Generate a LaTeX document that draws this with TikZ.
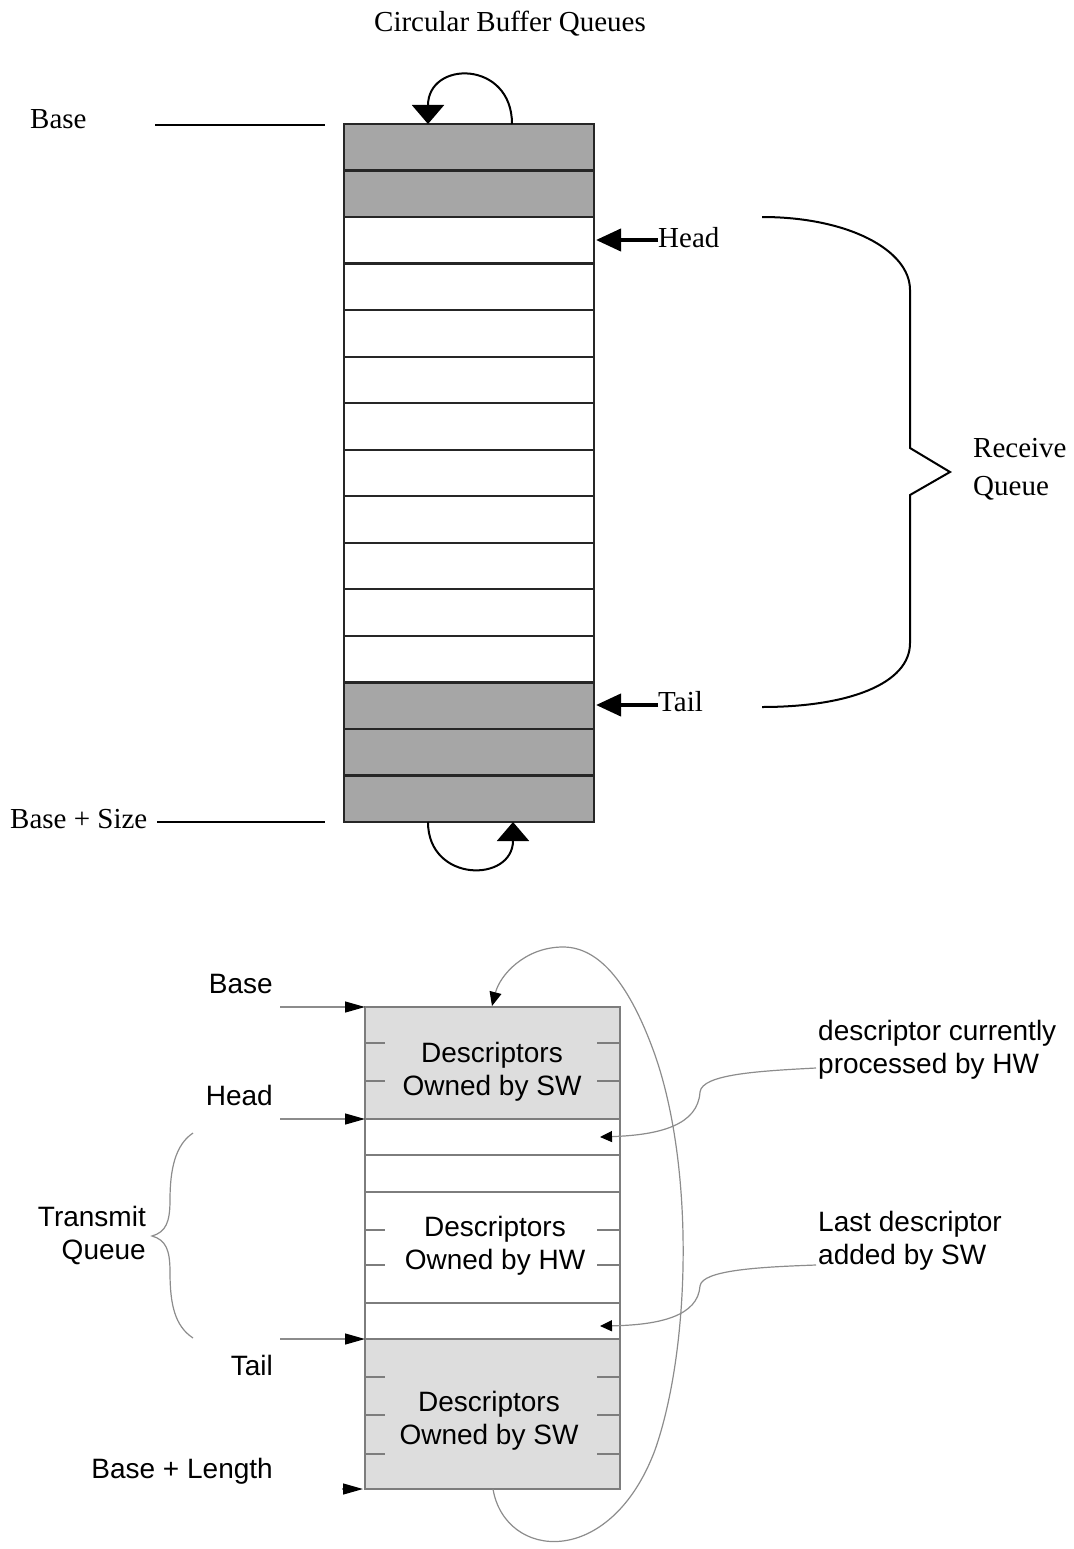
\documentclass[tikz,border=0pt]{standalone}
\usepackage{fontspec}
\setmainfont{Liberation Serif}
\newfontfamily\arialf{Liberation Sans}
\usetikzlibrary{arrows.meta}
\definecolor{topgray}{RGB}{166,166,166}
\definecolor{lightfill}{RGB}{221,221,221}
\definecolor{boxgray}{RGB}{125,125,125}
\definecolor{conngray}{RGB}{140,140,140}
\begin{document}
\begin{tikzpicture}[x=1pt,y=-1pt,
  serlab/.style={font=\fontsize{29}{38}\selectfont, inner sep=0pt},
  sanlab/.style={font=\arialf\fontsize{28}{33}\selectfont, inner sep=0pt},
  rowline/.style={line width=2.2pt, black!85},
  bigarrow/.style={line width=4pt, -{Triangle[length=25pt,width=22pt]}},
  looparrow/.style={line width=2pt, -{Triangle[length=19pt,width=32pt]}},
  conn/.style={conngray, line width=1.2pt},
  smalltip/.style={-{Triangle[length=12pt,width=11pt,black]}},
  ptrtip/.style={-{Triangle[length=20pt,width=11pt,black]}},
  tick/.style={boxgray, line width=1.2pt}]
\useasboundingbox (0,0) rectangle (1073,1549);

% ================= Top diagram =================
\node[serlab, anchor=base] (title) at (510,32) {Circular Buffer Queues};

\fill[topgray] (344,124) rectangle (594,217.1);
\fill[topgray] (344,682.4) rectangle (594,822);
\foreach \k in {1,...,14} \draw[rowline] (344,{124+46.533*\k}) -- (594,{124+46.533*\k});
\draw[line width=1.8pt, black!85] (344,124) rectangle (594,822);

\coordinate (rtop) at (512,124);
\coordinate (ltop) at (428,124);
\coordinate (rbot) at (513,822);
\coordinate (lbot) at (428,822);
\draw[looparrow] (rtop) .. controls (512,60) and (428,60) .. (ltop);
\draw[looparrow] (lbot) .. controls (428,883) and (513,883) .. (rbot);

\node[serlab, anchor=base west] (baseT) at (30,129) {Base};
\coordinate (baseL1) at (155,125);
\coordinate (baseL2) at (325,125);
\draw[line width=1.6pt] (baseL1) -- (baseL2);

\node[serlab, anchor=base west] (sizeT) at (10,828) {Base + Size};
\coordinate (sizeL1) at (157,822);
\coordinate (sizeL2) at (325,822);
\draw[line width=1.6pt] (sizeL1) -- (sizeL2);

\node[serlab, anchor=base west] (headT) at (658,247) {Head};
\coordinate (headP) at (596,240);
\draw[bigarrow] (headT.west |- headP) -- (headP);

\node[serlab, anchor=base west] (tailT) at (658,711) {Tail};
\coordinate (tailP) at (596,705);
\draw[bigarrow] (tailT.west |- tailP) -- (tailP);

\draw[line width=2pt] (762,217) .. controls (848,217) and (910,250) .. (910,290)
  -- (910,448) -- (950,472) -- (910,495) -- (910,643)
  .. controls (910,684) and (848,707) .. (762,707);
\node[serlab, anchor=west, align=left] (recv) at (973,469) {Receive\\Queue};

% ================= Bottom diagram =================
\fill[lightfill] (365,1007) rectangle (620,1119);
\fill[lightfill] (365,1339) rectangle (620,1489);
\foreach \y in {1119,1155,1192,1303,1339} \draw[tick] (365,\y) -- (620,\y);
\foreach \y in {1043,1081,1230,1265,1377,1415,1454} {
  \draw[tick] (365,\y) -- (385,\y);
  \draw[tick] (597,\y) -- (620,\y);
}
\draw[boxgray, line width=1.4pt] (365,1007) rectangle (620,1489);

\node[sanlab, align=center] (sw1) at (492,1072) {Descriptors\\Owned by SW};
\node[sanlab, align=center] (hw1) at (495,1246) {Descriptors\\Owned by HW};
\node[sanlab, align=center] (sw2) at (489,1421) {Descriptors\\Owned by SW};

\node[sanlab, anchor=base east] (bBase) at (273,993) {Base};
\node[sanlab, anchor=base east] (bHead) at (273,1105) {Head};
\node[sanlab, anchor=base east] (bTail) at (273,1375) {Tail};
\node[sanlab, anchor=base east] (bLen) at (273,1478) {Base + Length};

\coordinate (pBase0) at (280,1007); \coordinate (pBase) at (365,1007);
\coordinate (pHead0) at (280,1119); \coordinate (pHead) at (365,1119);
\coordinate (pTail0) at (280,1339); \coordinate (pTail) at (365,1339);
\coordinate (pLen0) at (342,1489);  \coordinate (pLen) at (363,1489);
\draw[conn, ptrtip] (pBase0) -- (pBase);
\draw[conn, ptrtip] (pHead0) -- (pHead);
\draw[conn, ptrtip] (pTail0) -- (pTail);
\draw[conn, ptrtip] (pLen0) -- (pLen);

\draw[conn] (193,1133) .. controls (175,1145) and (170,1170) .. (170,1200)
  .. controls (170,1222) and (166,1232) .. (152,1236)
  .. controls (166,1240) and (170,1250) .. (170,1272)
  .. controls (170,1305) and (175,1326) .. (193,1338);
\node[sanlab, anchor=east, align=right] (tq) at (146,1235) {Transmit\\Queue};

\node[sanlab, anchor=west, align=left] (cur) at (818,1050) {descriptor currently\\processed by HW};
\node[sanlab, anchor=west, align=left] (last) at (818,1241) {Last descriptor\\added by SW};

\coordinate (curS) at (816,1068);
\coordinate (curE) at (600,1137);
\draw[conn, smalltip] (curS) .. controls (760,1071) and (702,1074) .. (700,1092)
  .. controls (698,1125) and (660,1135) .. (curE);
\coordinate (lastS) at (816,1265);
\coordinate (lastE) at (600,1326);
\draw[conn, smalltip] (lastS) .. controls (760,1267) and (702,1270) .. (700,1286)
  .. controls (698,1316) and (660,1325) .. (lastE);

\coordinate (loopS) at (493,1489);
\coordinate (loopE) at (492,1006);
\draw[conn, -{Triangle[length=14pt,width=12pt,black]}] (loopS)
  .. controls (505,1560) and (610,1570) .. (655,1450)
  .. controls (690,1350) and (695,1170) .. (655,1055)
  .. controls (630,985) and (600,947) .. (563,947)
  .. controls (525,947) and (500,975) .. (loopE);
\end{tikzpicture}
\end{document}
